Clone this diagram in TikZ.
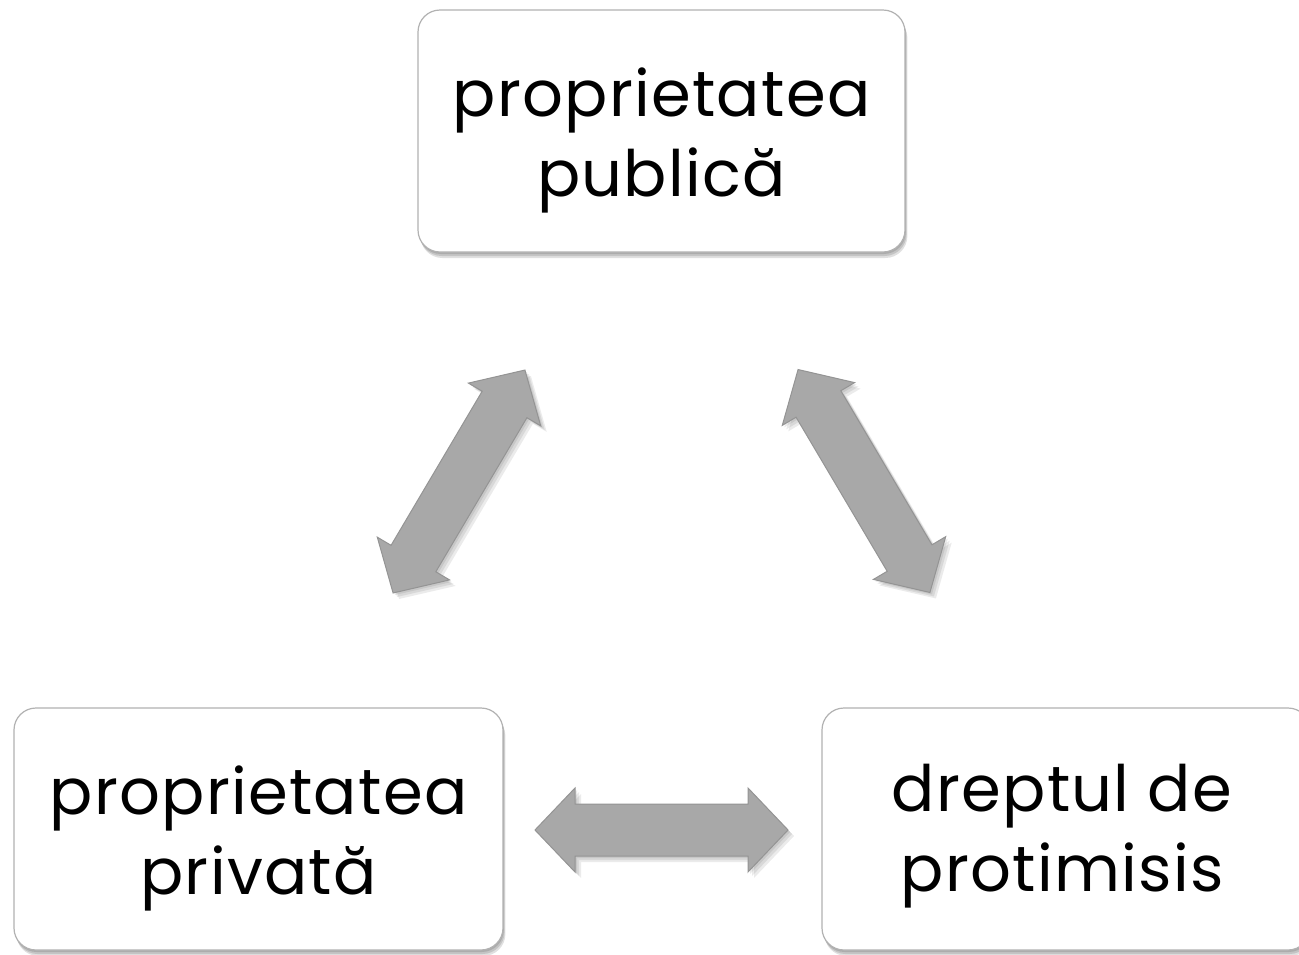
\documentclass[tikz,border=0pt]{standalone}
\usepackage{fontspec}
\setmainfont{Poppins}[LetterSpace=2]
\begin{document}
\begin{tikzpicture}[x=1pt,y=-1pt,
  box/.style={draw=black!30, line width=1.2pt, fill=white, rounded corners=22pt, inner sep=0pt},
  boxshadow/.style={fill=black, opacity=0.12, rounded corners=22pt, draw=none},
  label/.style={align=center, font=\fontsize{64}{80}\selectfont, text=black, inner sep=0pt},
  arrowfill/.style={fill=black!34, draw=black!42, line width=1pt},
  arrowshadow/.style={fill=black, opacity=0.08, draw=none}
]
\useasboundingbox (0,0) rectangle (1299,954);
\fill[white] (0,0) rectangle (1299,954);

% block arrow macro: centre x, centre y, angle, length
\newcommand\myblockarrow[4]{%
  \foreach \s in {6,4,2}{%
  \begin{scope}[shift={(#1+\s,#2+\s)}, rotate=#3]
    \fill[arrowshadow] (-#4/2,0) -- (-#4/2+40,42) -- (-#4/2+40,26) -- (#4/2-40,26) -- (#4/2-40,42) -- (#4/2,0) -- (#4/2-40,-42) -- (#4/2-40,-26) -- (-#4/2+40,-26) -- (-#4/2+40,-42) -- cycle;
  \end{scope}}
  \begin{scope}[shift={(#1,#2)}, rotate=#3]
    \path[arrowfill] (-#4/2,0) -- (-#4/2+40,42) -- (-#4/2+40,26) -- (#4/2-40,26) -- (#4/2-40,42) -- (#4/2,0) -- (#4/2-40,-42) -- (#4/2-40,-26) -- (-#4/2+40,-26) -- (-#4/2+40,-42) -- cycle;
  \end{scope}}

% shadows of boxes
\foreach \d in {2,4,6}{
  \fill[boxshadow] (418+\d*0.4,10+\d) rectangle (905+\d*0.4,252+\d);
  \fill[boxshadow] (14+\d*0.4,708+\d) rectangle (503+\d*0.4,950+\d);
  \fill[boxshadow] (822+\d*0.4,708+\d) rectangle (1310+\d*0.4,950+\d);
}

\node[box, minimum width=487pt, minimum height=242pt] (pubbox) at (661.5,131) {};
\node[label] (pub) at (661.5,140) {proprietatea\\publică};

\node[box, minimum width=489pt, minimum height=242pt] (privbox) at (258.5,829) {};
\node[label] (priv) at (258.5,838) {proprietatea\\privată};

\node[box, minimum width=488pt, minimum height=242pt] (protbox) at (1066,829) {};
\node[label] (prot) at (1062,836) {dreptul de\\protimisis};

\myblockarrow{459}{481.5}{59.4}{259}
\myblockarrow{864}{481}{-59.4}{259}
\myblockarrow{661.5}{830}{0}{253}

\end{tikzpicture}
\end{document}
